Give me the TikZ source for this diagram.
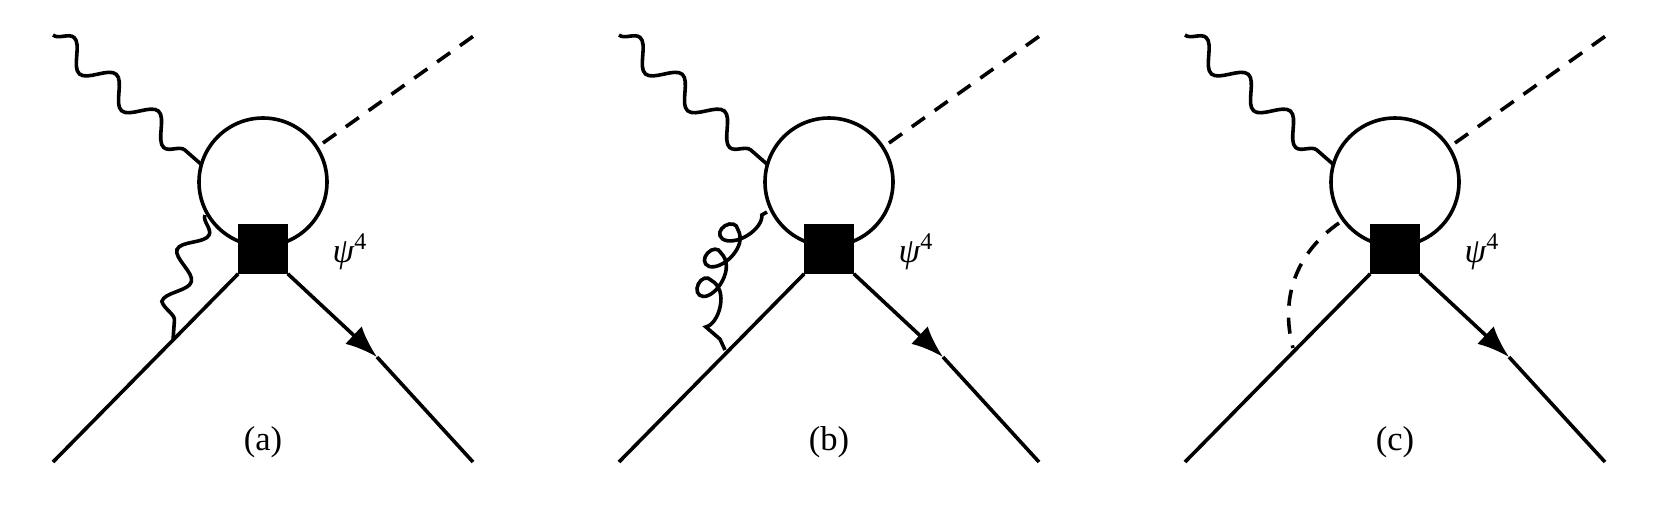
\documentclass[tikz,border=0pt]{standalone}
\usepackage{fontspec}
\setmainfont{Liberation Serif}
\usetikzlibrary{decorations.pathmorphing,decorations.pathreplacing,arrows.meta}
\tikzset{
  photon/.style={decorate,decoration={snake,amplitude=6pt,segment length=28pt}},
  gluon/.style={decorate,decoration={coil,amplitude=5pt,segment length=14pt,aspect=1.6,pre length=3pt,post length=6pt}},
  scalar/.style={dashed,dash pattern=on 8pt off 6pt},
  vertex/.style={draw,fill=black,minimum size=23pt,inner sep=0pt}
}
\begin{document}
\begin{tikzpicture}[x=0.5pt,y=-0.5pt,line width=1.8pt]
\useasboundingbox (0,0) rectangle (1661,505);
   %common parts of the three graphs
   \foreach \dx/\l in {0/a,566/b,1132/c}{
   \begin{scope}[xshift=\dx*0.5pt]
   \node[vertex] (sq\l) at (263,249) {};
   \draw (263,182) circle (64);
   \coordinate (in\l) at (53,35);
   \coordinate (lw\l) at (202,165);
   \coordinate (sc\l) at (323,143);
   \coordinate (out\l) at (475,35);
   \coordinate (fl\l) at (53,462);
   \coordinate (fr\l) at (473,462);
   \coordinate (ar\l) at (377,357);
   \draw[photon] (in\l) -- (lw\l);
   \draw[scalar] (sc\l) -- (out\l);
   \draw (sq\l.south west) -- (fl\l);
   \draw[-{Latex[length=16pt,width=12pt]}] (sq\l.south east) -- (ar\l);
   \draw (ar\l) -- (fr\l);
   \node at (350,252) {\LARGE\textit{ψ}\textsuperscript{4}};
   \node at (263,442) {\LARGE(\l)};
   \end{scope}
   }
   %internal lines
   \coordinate (ta) at (205,215);
   \coordinate (ba) at (173,340);
   \draw[photon,decoration={amplitude=6pt,segment length=26pt}] (ta) to[bend right=10] (ba);

   \coordinate (tb) at (767,212);
   \coordinate (bb) at (725,350);
   \draw[gluon] (tb) to[bend right=45] (bb);

   \coordinate (tc) at (1339,223);
   \coordinate (bc) at (1293,348);
   \draw[scalar] (tc) to[bend right=35] (bc);
\end{tikzpicture}
\end{document}
